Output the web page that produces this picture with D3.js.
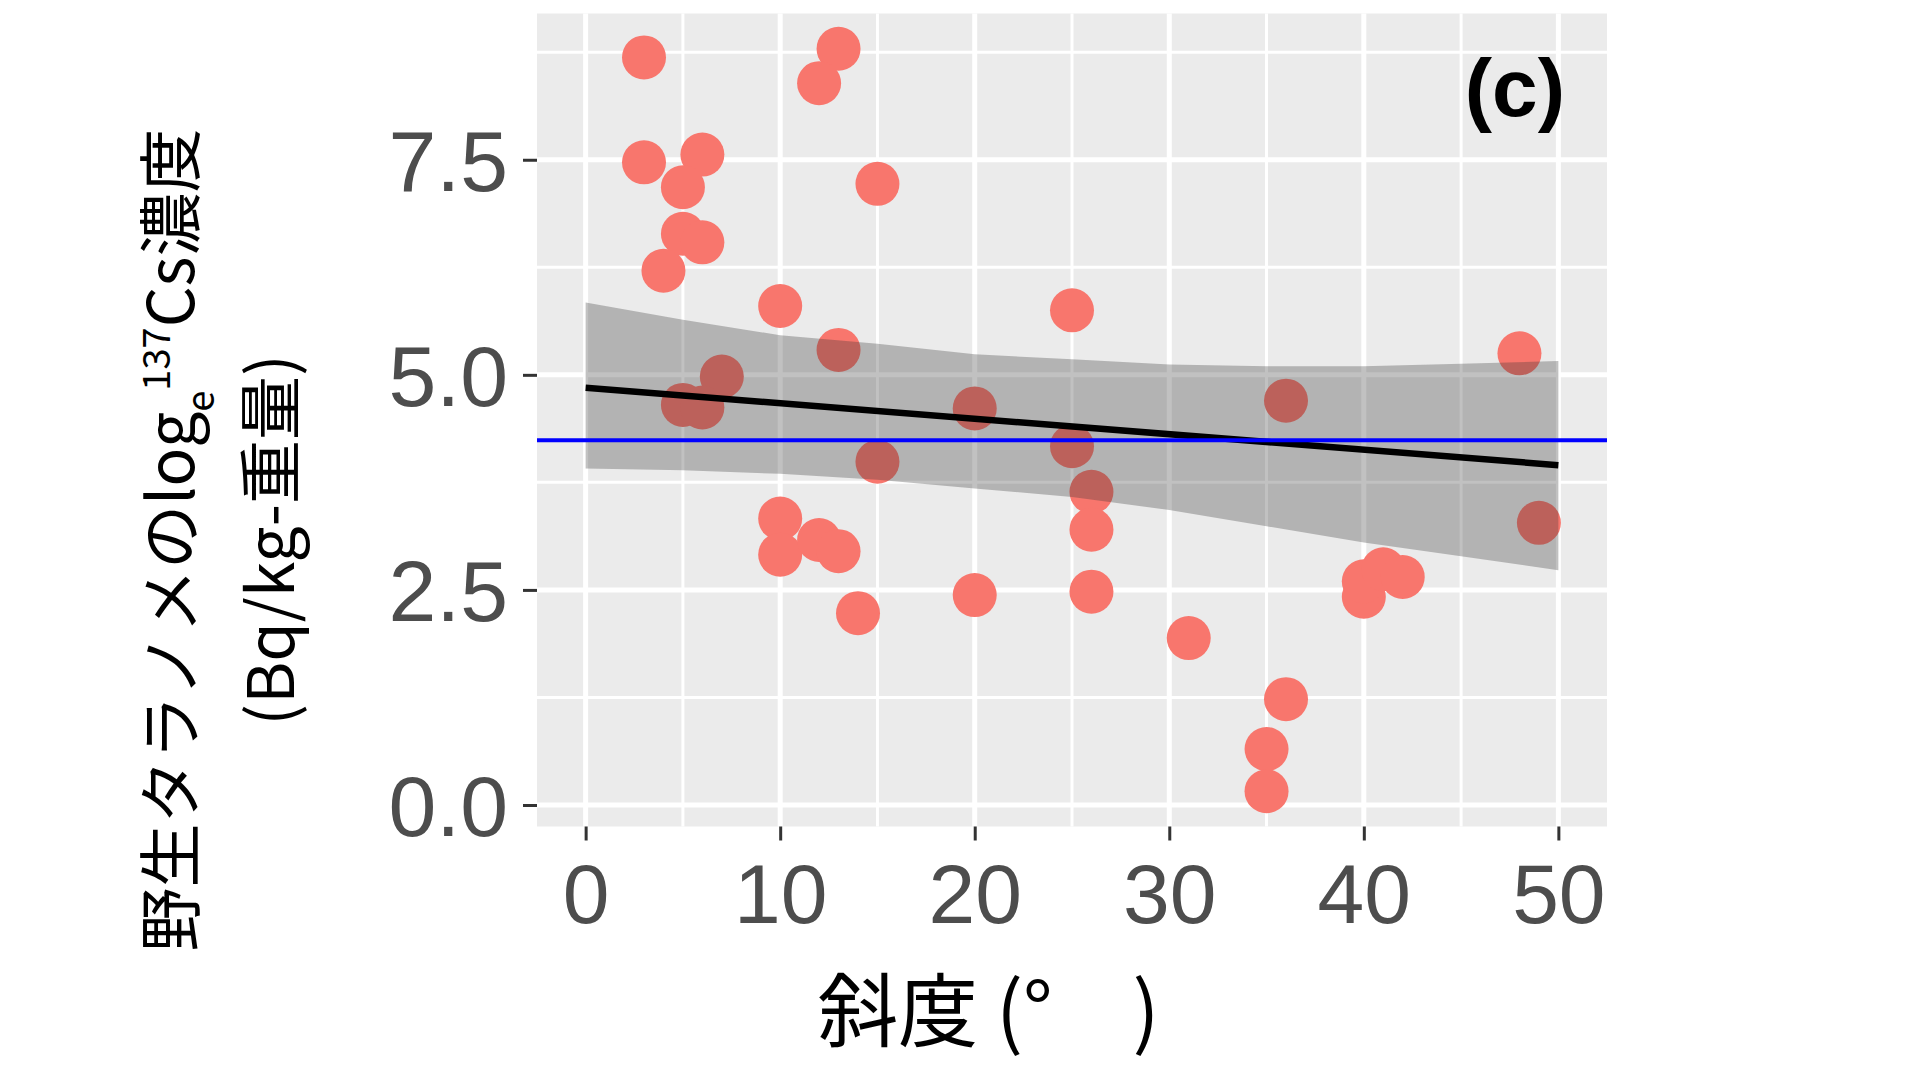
<!DOCTYPE html>
<html>
<head>
<meta charset="utf-8">
<script src="https://cdn.jsdelivr.net/npm/d3@7"></script>
<style>
  body { margin: 0; background: #fff; }
  svg { display: block; }
</style>
</head>
<body>
<script>
// slope (degrees) and log_e 137Cs concentration
var slope = [3, 13, 12, 3, 6, 5, 15, 5, 6, 4, 10, 25, 13, 48, 7, 5, 6, 20, 36, 25,
             15, 26, 26, 10, 10, 12, 13, 49, 14, 20, 26, 40, 40, 41, 42, 31, 36, 35, 35];
var conc = [8.69, 8.79, 8.39, 7.47, 7.56, 7.18, 7.22, 6.64, 6.54, 6.21, 5.80, 5.75, 5.29, 5.25, 4.98, 4.65, 4.62, 4.61, 4.70, 4.17,
            3.99, 3.64, 3.20, 3.33, 2.91, 3.08, 2.95, 3.28, 2.23, 2.44, 2.48, 2.42, 2.60, 2.74, 2.65, 1.94, 1.23, 0.65, 0.16];

// regression fit and its confidence band
var fitX = [0, 50];
var fitY = [4.85, 3.95];
var bandX = [0, 5, 10, 15, 20, 25, 30, 35, 40, 45, 50];
var bandLow = [3.91, 3.89, 3.85, 3.78, 3.68, 3.58, 3.43, 3.24, 3.05, 2.89, 2.73];
var bandHigh = [5.84, 5.64, 5.46, 5.36, 5.24, 5.18, 5.12, 5.10, 5.10, 5.13, 5.16];
var meanLine = 4.24;

var xTicks = [0, 10, 20, 30, 40, 50];
var xMinor = [5, 15, 25, 35, 45];
var yTicks = [0, 2.5, 5, 7.5];
var yMinor = [1.25, 3.75, 6.25, 8.75];

var width = 1920,
    height = 1080;

var panel = { left: 537, right: 1607, top: 13.5, bottom: 826.5 };

var svg = d3.select("body")
    .append("svg")
    .attr("width", width)
    .attr("height", height);

var x = d3.scaleLinear()
    .domain([-2.5, 52.5])
    .range([panel.left, panel.right]);

var y = d3.scaleLinear()
    .domain([-0.25, 9.2])
    .range([panel.bottom, panel.top]);

// panel background
svg.append("rect")
    .attr("x", panel.left)
    .attr("y", panel.top)
    .attr("width", panel.right - panel.left)
    .attr("height", panel.bottom - panel.top)
    .attr("fill", "#ebebeb");

var grid = svg.append("g");

grid.selectAll(".xminor")
    .data(xMinor)
    .enter()
    .append("line")
    .attr("x1", d => x(d)).attr("x2", d => x(d))
    .attr("y1", panel.top).attr("y2", panel.bottom)
    .attr("stroke", "#fff").attr("stroke-width", 3);

grid.selectAll(".yminor")
    .data(yMinor)
    .enter()
    .append("line")
    .attr("y1", d => y(d)).attr("y2", d => y(d))
    .attr("x1", panel.left).attr("x2", panel.right)
    .attr("stroke", "#fff").attr("stroke-width", 3);

grid.selectAll(".xmajor")
    .data(xTicks)
    .enter()
    .append("line")
    .attr("x1", d => x(d)).attr("x2", d => x(d))
    .attr("y1", panel.top).attr("y2", panel.bottom)
    .attr("stroke", "#fff").attr("stroke-width", 5);

grid.selectAll(".ymajor")
    .data(yTicks)
    .enter()
    .append("line")
    .attr("y1", d => y(d)).attr("y2", d => y(d))
    .attr("x1", panel.left).attr("x2", panel.right)
    .attr("stroke", "#fff").attr("stroke-width", 5);

// points
svg.append("g")
    .selectAll("circle")
    .data(slope.map((s, i) => [s, conc[i]]))
    .enter()
    .append("circle")
    .attr("cx", d => x(d[0]))
    .attr("cy", d => y(d[1]))
    .attr("r", 22)
    .attr("fill", "#f8766d");

// confidence band
var area = d3.area()
    .x((d, i) => x(bandX[i]))
    .y0((d, i) => y(bandLow[i]))
    .y1((d, i) => y(bandHigh[i]));

svg.append("path")
    .datum(bandX)
    .attr("d", area)
    .attr("fill", "#333")
    .attr("fill-opacity", 0.3);

// fitted line
var line = d3.line()
    .x((d, i) => x(fitX[i]))
    .y(d => y(d));

svg.append("path")
    .datum(fitY)
    .attr("d", line)
    .attr("fill", "none")
    .attr("stroke", "#000")
    .attr("stroke-width", 6.5);

// mean line
svg.append("line")
    .attr("x1", panel.left).attr("x2", panel.right)
    .attr("y1", y(meanLine)).attr("y2", y(meanLine))
    .attr("stroke", "#0000ff")
    .attr("stroke-width", 4);

// axes
var xAxis = svg.append("g")
    .attr("transform", "translate(0," + panel.bottom + ")")
    .call(d3.axisBottom(x).tickValues(xTicks).tickSize(14).tickPadding(22).tickFormat(d3.format("d")));

var yAxis = svg.append("g")
    .attr("transform", "translate(" + panel.left + ",0)")
    .call(d3.axisLeft(y).tickValues(yTicks).tickSize(14).tickPadding(15).tickFormat(d3.format(".1f")));

[xAxis, yAxis].forEach(function(ax) {
    ax.select(".domain").remove();
    ax.selectAll(".tick line").attr("stroke", "#333").attr("stroke-width", 3);
    ax.selectAll(".tick text")
        .attr("fill", "#4d4d4d")
        .style("font-family", "'Liberation Sans', Arial, sans-serif")
        .style("font-size", "84px");
});
yAxis.selectAll(".tick text").style("font-size", "86px").attr("dy", "0.36em");
xAxis.selectAll(".tick text").attr("dy", "0.72em");

// panel label
svg.append("text")
    .attr("x", 1565)
    .attr("y", 116)
    .attr("text-anchor", "end")
    .style("font-family", "'Liberation Sans', Arial, sans-serif")
    .style("font-weight", "bold")
    .style("font-size", "82px")
    .text("(c)");

// axis titles
var cjk = "'Noto Sans CJK JP', 'Noto Sans', sans-serif";

svg.append("text")
    .attr("x", 818)
    .attr("y", 1040)
    .style("font-family", cjk)
    .style("font-size", "80px")
    .text("斜度 (°\u3000)");

var yTitle = svg.append("text")
    .attr("transform", "translate(194,540) rotate(-90)")
    .attr("text-anchor", "middle")
    .style("font-family", cjk)
    .style("font-size", "64px");

yTitle.append("tspan").text("野生タラノメのlog");
yTitle.append("tspan").attr("dy", 20).style("font-size", "38px").text("e");
yTitle.append("tspan").attr("dy", -44).style("font-size", "38px").text("137");
yTitle.append("tspan").attr("dy", 24).text("Cs濃度");

svg.append("text")
    .attr("transform", "translate(294,540) rotate(-90)")
    .attr("text-anchor", "middle")
    .style("font-family", cjk)
    .style("font-size", "64px")
    .text("(Bq/kg-重量)");
</script>
</body>
</html>
